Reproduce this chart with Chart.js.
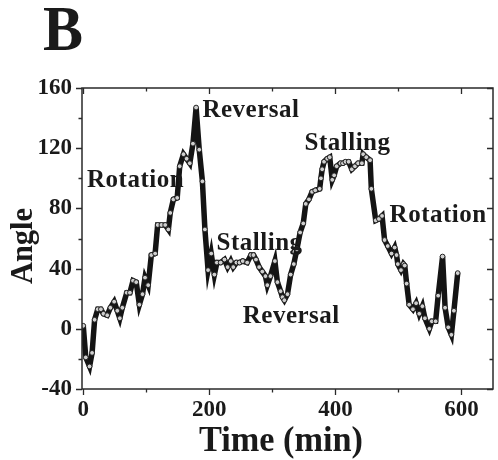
<!DOCTYPE html>
<html><head><meta charset="utf-8">
<script src="https://cdn.jsdelivr.net/npm/chart.js@4/dist/chart.umd.min.js"></script>
<style>html,body{margin:0;padding:0;background:#fff}canvas{display:block}</style>
</head><body>
<canvas id="c" width="498" height="460"></canvas>
<script>
const timeMin = [0,4,10,14,18,23,28,32,38,43,49,54,58,62,69,74,79,84,89,94,98,103,108,114,118,124,130,135,138,143,149,153,159,164,169,174,179,184,189,193,198,203,208,212,218,224,229,234,238,243,248,253,260,266,270,274,279,284,289,292,297,304,308,313,316,319,324,329,334,339,344,349,353,358,363,368,375,377,379,382,387,391,395,398,402,408,412,416,421,426,431,436,442,444,449,455,457,464,469,474,478,483,489,494,497,499,504,508,510,513,517,523,528,533,538,542,549,553,559,563,570,574,579,584,588,594];
const angleDeg = [2,-19,-25,-16,6,13,13,10,9,14,18,12,7,14,24,24,32,31,16,23,34,29,49,50,69,69,69,66,77,86,87,108,116,113,110,123,147,119,98,66,39,50,36,44,44,46,41,45,41,44,44,45,44,49,49,46,41,38,35,29,35,45,31,25,21,19,23,36,43,53,64,70,83,86,91,92,93,100,106,111,113,114,99,102,108,110,110,111,111,106,108,110,110,116,114,112,93,72,73,75,59,55,50,54,49,43,39,43,42,30,16,13,17,10,15,7,0,5,5,22,48,14,1,-4,12,37];
const xTickValues = [0,200,400,600];
const yTickValues = [-40,0,40,80,120,160];
const xMinorValues = [100,300,500];
const yMinorValues = [-20,20,60,100,140];
const noteTexts = ["Rotation","Reversal","Stalling","Reversal","Stalling","Rotation"];
const noteX = [6,189,211.5,253,351,486];
const noteY = [94,140.7,52.4,4,118.8,71.2];

const SERIF = '"Liberation Serif","Times New Roman",serif';
const INK = '#1a1a1a';

function drawFitted(ctx, text, x, y, size, targetW, align) {
  ctx.save();
  ctx.font = 'bold ' + size + 'px ' + SERIF;
  const w = ctx.measureText(text).width;
  const s = targetW / w;
  ctx.translate(x, y);
  ctx.scale(s, 1);
  ctx.textAlign = align;
  ctx.textBaseline = 'alphabetic';
  ctx.fillText(text, 0, 0);
  ctx.restore();
}

const decor = {
  id: 'decor',
  afterDraw(chart) {
    const ctx = chart.ctx, a = chart.chartArea;
    const xs = chart.scales.x, ys = chart.scales.y;
    ctx.save();
    ctx.strokeStyle = '#2a2a2a';
    ctx.lineWidth = 1.5;
    ctx.strokeRect(a.left, a.top, a.right - a.left, a.bottom - a.top);
    ctx.lineWidth = 1.3;
    ctx.beginPath();
    const xt = (v, len) => {
      const p = Math.round(xs.getPixelForValue(v)) + 0.5;
      ctx.moveTo(p, a.bottom); ctx.lineTo(p, a.bottom + len);
      ctx.moveTo(p, a.top); ctx.lineTo(p, a.top + len);
    };
    const yt = (v, len) => {
      const p = Math.round(ys.getPixelForValue(v)) + 0.5;
      ctx.moveTo(a.left, p); ctx.lineTo(a.left - len, p);
      ctx.moveTo(a.right, p); ctx.lineTo(a.right - len, p);
    };
    xTickValues.forEach(v => xt(v, 6));
    xMinorValues.forEach(v => xt(v, 3.5));
    yTickValues.forEach(v => yt(v, 6));
    yMinorValues.forEach(v => yt(v, 3.5));
    ctx.stroke();

    ctx.fillStyle = INK;
    ctx.font = 'bold 25px ' + SERIF;
    ctx.textAlign = 'left';
    ctx.textBaseline = 'alphabetic';
    try { ctx.letterSpacing = '0.5px'; } catch (e) {}
    noteTexts.forEach((t, i) => {
      ctx.fillText(t, xs.getPixelForValue(noteX[i]), ys.getPixelForValue(noteY[i]));
    });
    try { ctx.letterSpacing = '0px'; } catch (e) {}

    drawFitted(ctx, 'B', 43, 50, 64, 40, 'left');
    drawFitted(ctx, 'Time (min)', 281, 451, 36, 164, 'center');
    ctx.save();
    ctx.translate(32, 246);
    ctx.rotate(-Math.PI / 2);
    drawFitted(ctx, 'Angle', 0, 0, 32, 76, 'center');
    ctx.restore();
    ctx.restore();
  }
};

new Chart(document.getElementById('c'), {
  type: 'line',
  data: {
    datasets: [{
      data: timeMin.map((t, i) => ({ x: t, y: angleDeg[i] })),
      borderColor: '#141414',
      borderWidth: 5.5,
      tension: 0,
      pointRadius: 2.4,
      pointBackgroundColor: '#cfcfcf',
      pointBorderColor: '#222',
      pointBorderWidth: 1
    }]
  },
  options: {
    responsive: false,
    animation: false,
    devicePixelRatio: 1,
    layout: { padding: { top: 88, right: 1, left: 0, bottom: 0 } },
    plugins: { legend: { display: false }, tooltip: { enabled: false } },
    scales: {
      x: {
        type: 'linear', min: -2, max: 650,
        afterBuildTicks: s => { s.ticks = xTickValues.map(v => ({ value: v })); },
        afterFit: s => { s.height = 71; },
        grid: { display: false }, border: { display: false },
        ticks: { font: { family: SERIF, size: 23, weight: 'bold' }, color: INK, padding: -1, maxRotation: 0, autoSkip: false }
      },
      y: {
        type: 'linear', min: -40, max: 160,
        afterBuildTicks: s => { s.ticks = yTickValues.map(v => ({ value: v })); },
        afterFit: s => { s.width = 82; },
        grid: { display: false }, border: { display: false },
        ticks: { font: { family: SERIF, size: 23, weight: 'bold' }, color: INK, padding: 2, autoSkip: false }
      }
    }
  },
  plugins: [decor]
});
</script>
</body></html>
